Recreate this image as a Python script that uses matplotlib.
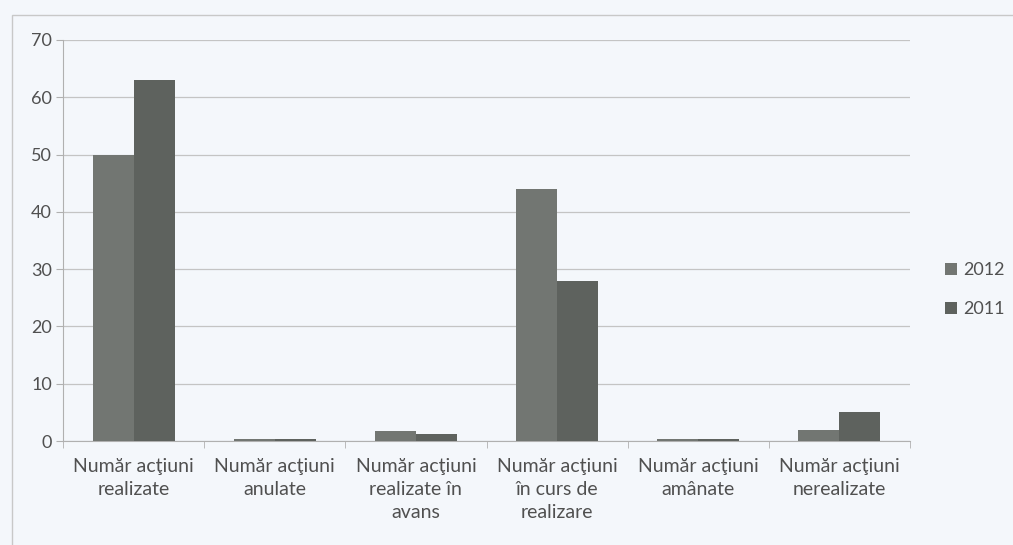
import matplotlib
matplotlib.use("Agg")
import matplotlib.pyplot as plt
import numpy as np
from matplotlib.patches import Rectangle

categories = ["Număr acţiuni\nrealizate", "Număr acţiuni\nanulate", "Număr acţiuni\nrealizate în\navans",
              "Număr acţiuni\nîn curs de\nrealizare", "Număr acţiuni\namânate", "Număr acţiuni\nnerealizate"]
series_names = ["2012", "2011"]
values_2012 = [50, 0.3, 1.7, 44, 0.3, 2]
values_2011 = [63, 0.3, 1.2, 28, 0.3, 5]
colors = ["#727672", "#5e625e"]

plt.rcParams['font.family'] = ['Lato', 'DejaVu Sans']
bg = "#f4f7fb"
txt = "#505050"
fig = plt.figure(figsize=(10.13, 5.45), dpi=100, facecolor=bg)
ax = fig.add_axes([63/1013, 1-441/545, (910-63)/1013, (441-40)/545])
ax.set_facecolor(bg)

x = np.arange(len(categories))
w = 0.29
b1 = ax.bar(x - w/2, values_2012, w, color=colors[0], label=series_names[0], zorder=3)
b2 = ax.bar(x + w/2, values_2011, w, color=colors[1], label=series_names[1], zorder=3)

ax.set_ylim(0, 70)
ax.set_xlim(-0.5, len(categories) - 0.5)
ax.set_yticks(range(0, 71, 10))
ax.yaxis.grid(True, color="#c4c4c4", linewidth=0.9, zorder=0)
for s in ["top", "right"]:
    ax.spines[s].set_visible(False)
for s in ["left", "bottom"]:
    ax.spines[s].set_color("#b0b0b0")
ax.set_xticks(x)
ax.set_xticklabels(categories, fontsize=14, color=txt, linespacing=1.45)
ax.tick_params(axis="x", length=0, pad=12)
ax.set_xticks(np.arange(-0.5, len(categories)), minor=True)
ax.tick_params(axis="x", which="minor", length=5, color="#b0b0b0")
ax.tick_params(axis="y", length=5, color="#b0b0b0", labelsize=13, labelcolor=txt, pad=3)

leg = fig.legend(handles=[b1, b2], labels=series_names, loc="upper left",
                 bbox_to_anchor=(945/1013, 1-262/545), frameon=False, fontsize=13,
                 borderpad=0, borderaxespad=0,
                 handlelength=0.65, handleheight=0.65, handletextpad=0.35, labelspacing=1.3,
                 labelcolor=txt)

fig.patches.append(Rectangle((12/1013, -0.05), 1.1, 1.05-15/545, transform=fig.transFigure,
                             fill=False, edgecolor="#c8c8c8", linewidth=1))

fig.savefig("out.png", dpi=100, facecolor=bg)
